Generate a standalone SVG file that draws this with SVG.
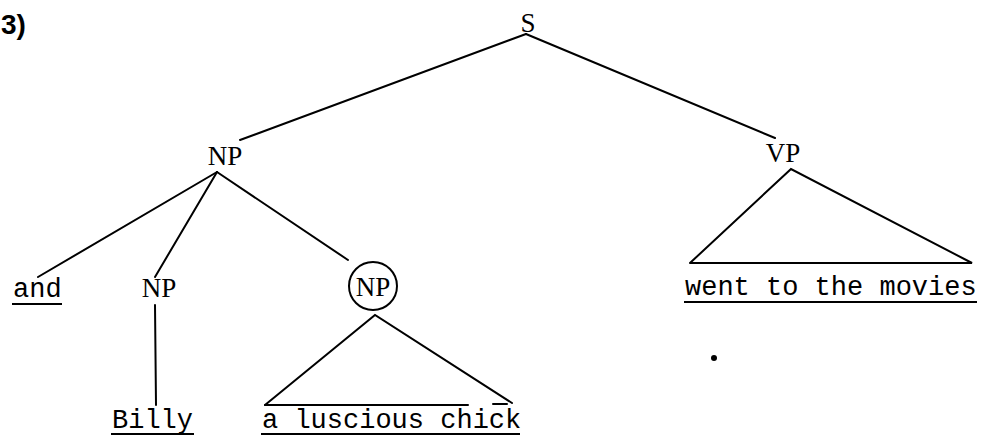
<svg xmlns="http://www.w3.org/2000/svg" width="981" height="437" viewBox="0 0 981 437">
<style>
.lbl{font-family:"Liberation Serif","DejaVu Serif",serif;font-size:27px;fill:#000;text-anchor:middle}
.word{font-family:"Liberation Mono","DejaVu Sans Mono",monospace;font-size:27px;fill:#000}
.edge{stroke:#000;stroke-width:2;fill:none;stroke-linecap:round}
.ul{stroke:#000;stroke-width:2;fill:none}
</style>
<rect width="981" height="437" fill="#fff"/>
<text x="1" y="34" font-family="Liberation Sans, sans-serif" font-size="28" font-weight="bold">3)</text>
<g id="connectors">
<line class="edge" x1="526" y1="34" x2="240" y2="140"/>
<line class="edge" x1="526" y1="34" x2="775" y2="138"/>
<line class="edge" x1="217" y1="172" x2="38" y2="277"/>
<line class="edge" x1="217" y1="172" x2="155" y2="277"/>
<line class="edge" x1="217" y1="172" x2="348" y2="260"/>
<line class="edge" x1="155" y1="305" x2="156" y2="405"/>
<polyline class="edge" points="690,263 791,169 972,263 690,263"/>
<polyline class="edge" points="265,405 375,315 512,403"/>
<line class="edge" x1="265" y1="405" x2="468" y2="405"/>
<line class="edge" x1="493" y1="404" x2="507" y2="404"/>
</g>
<g id="S"><text class="lbl" x="528" y="32">S</text></g>
<g id="NP1"><text class="lbl" x="225" y="165">NP</text></g>
<g id="VP"><text class="lbl" x="783" y="162">VP</text></g>
<g id="and"><text class="word" x="13" y="297">and</text><line class="ul" x1="12" y1="304" x2="62" y2="304"/></g>
<g id="NP2"><text class="lbl" x="159" y="297">NP</text></g>
<g id="NP3"><circle cx="373" cy="286" r="24" fill="none" stroke="#000" stroke-width="2"/><text class="lbl" x="373" y="296">NP</text></g>
<g id="went"><text class="word" x="685" y="295">went to the movies</text><line class="ul" x1="684" y1="302" x2="977" y2="302"/></g>
<g id="Billy"><text class="word" x="112" y="428">Billy</text><line class="ul" x1="111" y1="434" x2="194" y2="434"/></g>
<g id="chick"><text class="word" x="262" y="428">a luscious chick</text><line class="ul" x1="261" y1="434" x2="520" y2="434"/></g>
<circle cx="714" cy="358" r="3" fill="#000"/>
</svg>
